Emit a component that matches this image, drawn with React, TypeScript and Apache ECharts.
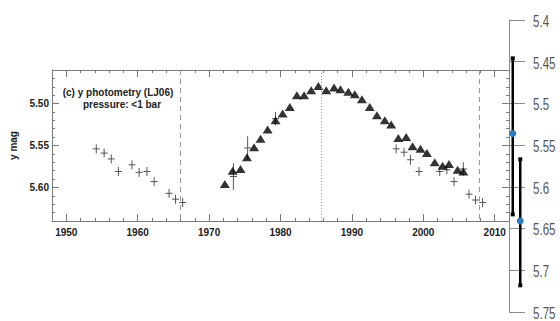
import React, { useEffect, useRef } from "react";
import * as echarts from "echarts";

// Triangles: LJ06 y photometry
const TRI_YEARS = [1972.2, 1973.3, 1974.4, 1975.3, 1976.3, 1977.2, 1978.2, 1979.3, 1980.3, 1981.3, 1982.3, 1983.3, 1984.3, 1985.3, 1986.4, 1987.5, 1988.4, 1989.5, 1990.4, 1991.4, 1992.5, 1993.5, 1994.6, 1995.5, 1996.5, 1997.6, 1998.5, 1999.6, 2000.5, 2001.6, 2002.7, 2003.6, 2004.8, 2005.6];
const TRI_MAG = [5.596, 5.580, 5.578, 5.564, 5.552, 5.542, 5.531, 5.520, 5.512, 5.504, 5.490, 5.490, 5.484, 5.479, 5.484, 5.481, 5.483, 5.486, 5.489, 5.495, 5.504, 5.514, 5.520, 5.525, 5.541, 5.540, 5.551, 5.554, 5.559, 5.570, 5.574, 5.572, 5.579, 5.581];

// Crosses: other photometry with error bars
const CROSS_YEARS = [1954.2, 1955.3, 1956.3, 1957.3, 1959.2, 1960.2, 1961.3, 1962.3, 1964.4, 1965.3, 1966.3, 1973.4, 1975.4, 1979.3, 1996.2, 1997.3, 1998.2, 1999.4, 2002.3, 2003.3, 2004.3, 2005.6, 2006.4, 2007.3, 2008.3];
const CROSS_MAG = [5.554, 5.559, 5.566, 5.581, 5.573, 5.582, 5.581, 5.593, 5.607, 5.614, 5.618, 5.587, 5.553, 5.518, 5.554, 5.558, 5.567, 5.581, 5.581, 5.579, 5.593, 5.578, 5.608, 5.615, 5.618];
const CROSS_ERR = [0.004, 0.005, 0.005, 0.004, 0.004, 0.004, 0.005, 0.004, 0.005, 0.004, 0.003, 0.016, 0.014, 0.008, 0.004, 0.004, 0.006, 0.003, 0.003, 0.005, 0.003, 0.008, 0.004, 0.003, 0.003];

// Vertical reference lines
const DASHED_YEARS = [1965.9, 2007.9];
const DOTTED_YEARS = [1985.7];

// Axis ticks
const X_TICKS = [1950, 1960, 1970, 1980, 1990, 2000, 2010];
const Y_TICKS = [5.5, 5.55, 5.6];
const RIGHT_TICKS = [5.4, 5.45, 5.5, 5.55, 5.6, 5.65, 5.7, 5.75];

// Right-hand comparison scale: two error bars
const RIGHT_CATS = ["a", "b"];
const RIGHT_LOW = [5.446, 5.567];
const RIGHT_HIGH = [5.633, 5.718];
const RIGHT_MID = [5.536, 5.641];

const FRAME = "#7a7a7a";
const LABEL_FONT = "'Liberation Sans', Arial, sans-serif";

export default function App() {
  const ref = useRef<HTMLDivElement>(null);

  useEffect(() => {
    if (!ref.current) return;
    const chart = echarts.init(ref.current, null, { renderer: "svg" });

    const triData = TRI_YEARS.map((y, i) => [y, TRI_MAG[i]]);
    const crossData = CROSS_YEARS.map((y, i) => [y, CROSS_MAG[i], CROSS_ERR[i]]);
    const rightData = RIGHT_CATS.map((c, i) => [i, RIGHT_LOW[i], RIGHT_HIGH[i], RIGHT_MID[i]]);

    const minorX = {
      type: "value", gridIndex: 0, min: 1948, max: 2012, interval: 2,
      axisLine: { show: false }, axisLabel: { show: false }, splitLine: { show: false },
      axisTick: { show: true, inside: true, length: 3, lineStyle: { color: FRAME } },
    };
    const minorY = {
      type: "value", gridIndex: 0, min: 5.46, max: 5.64, interval: 0.01, inverse: true,
      axisLine: { show: false }, axisLabel: { show: false }, splitLine: { show: false },
      axisTick: { show: true, inside: true, length: 3, lineStyle: { color: FRAME } },
    };

    const baseGraphic: any[] = [
      {
        id: "t1", type: "text", x: 118, y: 92,
        style: { text: "(c) y photometry (LJ06)", align: "center", verticalAlign: "middle", fontSize: 10, fontWeight: "bold", fontFamily: LABEL_FONT, fill: "#222" },
      },
      {
        id: "t2", type: "text", x: 122, y: 104,
        style: { text: "pressure: <1 bar", align: "center", verticalAlign: "middle", fontSize: 10, fontWeight: "bold", fontFamily: LABEL_FONT, fill: "#222" },
      },
    ];

    const option: any = {
      animation: false,
      backgroundColor: "#ffffff",
      grid: [
        { left: 52, right: 51, top: 70, height: 151 },
        { left: 509, width: 15, top: 20, height: 292 },
      ],
      xAxis: [
        {
          type: "value", gridIndex: 0, min: 1948, max: 2012, position: "bottom",
          axisLine: { show: true, lineStyle: { color: FRAME, width: 1 } },
          axisTick: { show: true, inside: true, length: 7, customValues: X_TICKS, lineStyle: { color: FRAME } },
          axisLabel: { show: true, customValues: X_TICKS, margin: 6, fontSize: 10, fontWeight: "bold", color: "#222", fontFamily: LABEL_FONT, formatter: (v: number) => String(v) },
          splitLine: { show: false },
        },
        { ...minorX, position: "bottom" },
        {
          type: "value", gridIndex: 0, min: 1948, max: 2012, position: "top",
          axisLine: { show: true, lineStyle: { color: FRAME, width: 1 } },
          axisTick: { show: true, inside: true, length: 7, customValues: X_TICKS, lineStyle: { color: FRAME } },
          axisLabel: { show: false }, splitLine: { show: false },
        },
        { ...minorX, position: "top" },
        { type: "category", gridIndex: 1, data: RIGHT_CATS, show: false },
      ],
      yAxis: [
        {
          type: "value", gridIndex: 0, min: 5.46, max: 5.64, inverse: true, position: "left",
          name: "y mag", nameLocation: "middle", nameGap: 28, nameRotate: 90,
          nameTextStyle: { fontSize: 10, fontWeight: "bold", color: "#222", fontFamily: LABEL_FONT },
          axisLine: { show: true, lineStyle: { color: FRAME, width: 1 } },
          axisTick: { show: true, inside: true, length: 7, customValues: Y_TICKS, lineStyle: { color: FRAME } },
          axisLabel: { show: true, customValues: Y_TICKS, margin: 3, fontSize: 10, fontWeight: "bold", color: "#222", fontFamily: LABEL_FONT, formatter: (v: number) => v.toFixed(2) },
          splitLine: { show: false },
        },
        { ...minorY, position: "left" },
        {
          type: "value", gridIndex: 0, min: 5.46, max: 5.64, inverse: true, position: "right",
          axisLine: { show: true, lineStyle: { color: FRAME, width: 1 } },
          axisTick: { show: true, inside: true, length: 7, customValues: Y_TICKS, lineStyle: { color: FRAME } },
          axisLabel: { show: false }, splitLine: { show: false },
        },
        { ...minorY, position: "right" },
        {
          type: "value", gridIndex: 1, min: 5.4, max: 5.75, interval: 0.05, inverse: true, position: "left",
          axisLine: { show: true, lineStyle: { color: "#8a8a8a", width: 1 } },
          axisTick: { show: true, inside: true, length: 16, lineStyle: { color: "#8a8a8a", width: 1 } },
          axisLabel: { show: false },
          splitLine: { show: false },
        },
      ],
      graphic: baseGraphic,
      series: [
        {
          type: "custom",
          name: "other",
          xAxisIndex: 0, yAxisIndex: 0,
          data: crossData,
          renderItem: (params: any, api: any) => {
            const x = api.value(0), y = api.value(1), e = api.value(2);
            const c = api.coord([x, y]);
            const t = api.coord([x, y - e]);
            const b = api.coord([x, y + e]);
            const half = Math.max(Math.abs(b[1] - t[1]) / 2, 4.5);
            return {
              type: "group",
              children: [
                { type: "line", shape: { x1: c[0], y1: c[1] - half, x2: c[0], y2: c[1] + half }, style: { stroke: "#555", lineWidth: 1 } },
                { type: "line", shape: { x1: c[0] - 3.5, y1: c[1], x2: c[0] + 3.5, y2: c[1] }, style: { stroke: "#555", lineWidth: 1 } },
              ],
            };
          },
        },
        {
          type: "scatter",
          name: "LJ06",
          xAxisIndex: 0, yAxisIndex: 0,
          symbol: "triangle",
          symbolSize: [10, 8],
          itemStyle: { color: "#000" },
          data: triData,
          markLine: {
            silent: true,
            symbol: ["none", "none"],
            label: { show: false },
            data: [
              ...DASHED_YEARS.map((yr) => ({ xAxis: yr, lineStyle: { color: "#999", type: [5, 4], width: 1 } })),
              ...DOTTED_YEARS.map((yr) => ({ xAxis: yr, lineStyle: { color: "#999", type: [1, 2], width: 1 } })),
            ],
          },
        },
        {
          type: "custom",
          name: "range",
          xAxisIndex: 4, yAxisIndex: 4,
          data: rightData,
          renderItem: (params: any, api: any) => {
            const i = api.value(0);
            const lo = api.coord([i, api.value(1)]);
            const hi = api.coord([i, api.value(2)]);
            const mid = api.coord([i, api.value(3)]);
            return {
              type: "group",
              children: [
                { type: "line", shape: { x1: lo[0], y1: lo[1], x2: hi[0], y2: hi[1] }, style: { stroke: "#000", lineWidth: 2.5 } },
                { type: "rect", shape: { x: lo[0] - 2, y: lo[1] - 2, width: 4, height: 4 }, style: { fill: "#000" } },
                { type: "rect", shape: { x: hi[0] - 2, y: hi[1] - 2, width: 4, height: 4 }, style: { fill: "#000" } },
                { type: "circle", shape: { cx: mid[0], cy: mid[1], r: 3.5 }, style: { fill: "#2b7bbf" } },
              ],
            };
          },
        },
      ],
    };

    chart.setOption(option);

    // Right-hand scale labels in a condensed look, placed via the axis scale
    const labels = RIGHT_TICKS.map((v, i) => {
      const py = chart.convertToPixel({ yAxisIndex: 4 }, v) as number;
      return {
        id: "r" + i, type: "text", x: 533, y: py + 1, scaleX: 0.68, scaleY: 1,
        style: { text: String(parseFloat(v.toFixed(2))), align: "left", verticalAlign: "middle", fontSize: 17, fontFamily: LABEL_FONT, fill: "#555" },
      };
    });
    chart.setOption({ graphic: [...baseGraphic, ...labels] });

    return () => chart.dispose();
  }, []);

  return <div ref={ref} style={{ position: "fixed", left: 0, top: 0, width: 560, height: 321, background: "#fff" }} />;
}
